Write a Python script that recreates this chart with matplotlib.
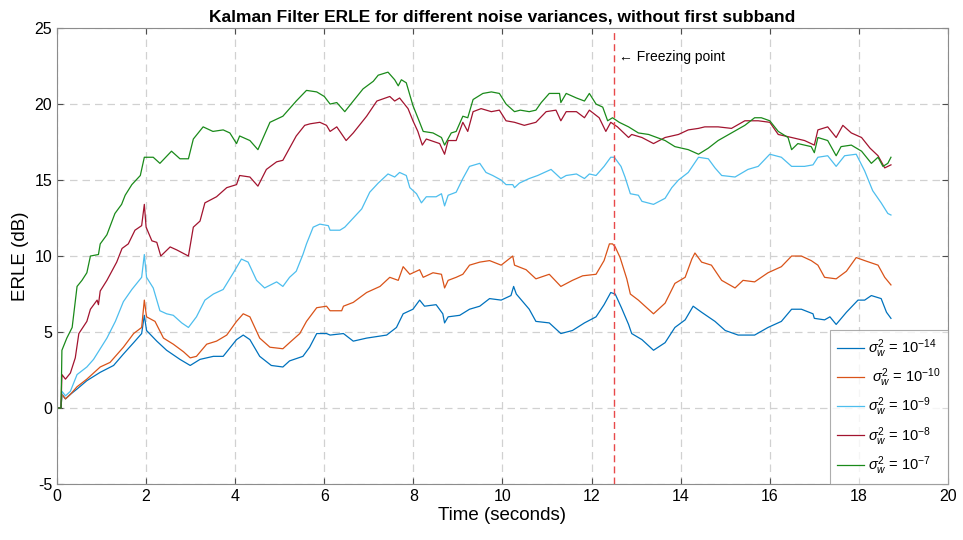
import matplotlib
matplotlib.use('Agg')
import matplotlib.pyplot as plt

plt.rcParams['font.family'] = ['Liberation Sans', 'DejaVu Sans']
plt.rcParams['mathtext.fontset'] = 'custom'
plt.rcParams['mathtext.rm'] = 'Liberation Sans'
plt.rcParams['mathtext.it'] = 'Liberation Sans:italic'
plt.rcParams['axes.unicode_minus'] = False

#####
# (time [s], ERLE [dB])
erle_1e14 = [(0, 0), (0.09, 0), (0.11, 0.9), (0.19, 0.6), (0.3, 0.9), (0.45, 1.25), (0.67, 1.8), (0.97, 2.35),
             (1.27, 2.8), (1.49, 3.55), (1.72, 4.3), (1.9, 4.9), (1.96, 6.1), (2.01, 5.1), (2.24, 4.4), (2.46, 3.8),
             (2.76, 3.2), (2.99, 2.8), (3.21, 3.2), (3.51, 3.4), (3.73, 3.4), (4.03, 4.5), (4.18, 4.8), (4.33, 4.5),
             (4.55, 3.4), (4.81, 2.8), (5.07, 2.7), (5.22, 3.1), (5.52, 3.4), (5.67, 4.0), (5.83, 4.9), (6.05, 4.9),
             (6.13, 4.8), (6.43, 4.9), (6.65, 4.4), (6.95, 4.6), (7.4, 4.8), (7.62, 5.3), (7.77, 6.2), (7.99, 6.5),
             (8.14, 7.1), (8.25, 6.7), (8.51, 6.8), (8.66, 6.2), (8.7, 5.6), (8.78, 6.0), (9.04, 6.1), (9.26, 6.5),
             (9.49, 6.7), (9.71, 7.2), (9.97, 7.1), (10.19, 7.4), (10.25, 8.0), (10.31, 7.5), (10.6, 6.5),
             (10.75, 5.7), (11.05, 5.6), (11.31, 4.9), (11.57, 5.1), (11.84, 5.6), (12.1, 6.0), (12.28, 6.8),
             (12.43, 7.6), (12.53, 7.5), (12.67, 6.6), (12.83, 5.5), (12.9, 4.9), (13.13, 4.5), (13.39, 3.8),
             (13.65, 4.3), (13.87, 5.3), (14.1, 5.8), (14.28, 6.7), (14.47, 6.3), (14.77, 5.7), (15.0, 5.1),
             (15.29, 4.8), (15.66, 4.8), (15.96, 5.3), (16.26, 5.7), (16.49, 6.5), (16.71, 6.5), (16.97, 6.2),
             (17.0, 5.9), (17.23, 5.8), (17.35, 6.0), (17.49, 5.5), (17.72, 6.3), (17.98, 7.1), (18.13, 7.1),
             (18.28, 7.4), (18.5, 7.2), (18.62, 6.3), (18.72, 5.9)]

erle_1e10 = [(0, 0), (0.09, 0), (0.11, 0.9), (0.19, 0.6), (0.3, 0.9), (0.45, 1.4), (0.67, 1.9), (0.97, 2.7),
             (1.19, 3.0), (1.49, 4.0), (1.72, 4.9), (1.9, 5.3), (1.96, 7.1), (2.01, 6.0), (2.2, 5.7), (2.39, 4.6),
             (2.61, 4.2), (2.84, 3.7), (2.99, 3.3), (3.13, 3.4), (3.36, 4.2), (3.58, 4.4), (3.81, 4.8), (4.03, 5.7),
             (4.18, 6.2), (4.33, 6.0), (4.55, 4.6), (4.78, 4.0), (5.07, 3.9), (5.22, 4.3), (5.45, 4.9), (5.6, 5.7),
             (5.83, 6.6), (6.05, 6.7), (6.13, 6.4), (6.39, 6.4), (6.43, 6.7), (6.65, 6.95), (6.95, 7.6),
             (7.25, 8.0), (7.47, 8.6), (7.66, 8.4), (7.77, 9.3), (7.92, 8.8), (8.14, 9.1), (8.22, 8.6),
             (8.44, 8.9), (8.63, 8.8), (8.7, 7.9), (8.78, 8.4), (8.96, 8.6), (9.11, 8.8), (9.26, 9.4), (9.49, 9.6),
             (9.71, 9.7), (9.97, 9.4), (10.23, 10.0), (10.27, 9.4), (10.53, 9.1), (10.75, 8.5), (11.05, 8.8),
             (11.31, 8.0), (11.57, 8.4), (11.8, 8.7), (12.1, 8.8), (12.28, 9.7), (12.4, 10.8), (12.47, 10.8),
             (12.53, 10.6), (12.64, 9.9), (12.79, 8.5), (12.87, 7.5), (13.05, 7.1), (13.2, 6.7), (13.39, 6.2),
             (13.65, 6.9), (13.87, 8.2), (14.1, 8.6), (14.25, 9.8), (14.32, 10.2), (14.47, 9.6), (14.69, 9.4),
             (14.92, 8.4), (15.22, 7.9), (15.4, 8.4), (15.66, 8.3), (15.96, 8.9), (16.26, 9.3), (16.49, 10.0),
             (16.71, 10.0), (16.93, 9.7), (17.08, 9.4), (17.23, 8.6), (17.49, 8.5), (17.72, 9.0), (17.94, 9.9),
             (18.13, 9.7), (18.43, 9.4), (18.58, 8.6), (18.72, 8.1)]

erle_1e9 = [(0, 0), (0.09, 0), (0.11, 1.1), (0.19, 0.8), (0.3, 1.1), (0.45, 2.2), (0.67, 2.7), (0.82, 3.2),
            (0.97, 3.9), (1.12, 4.6), (1.31, 5.7), (1.49, 7.0), (1.68, 7.8), (1.9, 8.6), (1.96, 10.1), (2.01, 8.6),
            (2.16, 7.9), (2.31, 6.4), (2.46, 6.2), (2.61, 6.1), (2.8, 5.6), (2.95, 5.3), (3.13, 6.0), (3.32, 7.1),
            (3.51, 7.5), (3.73, 7.8), (3.96, 8.9), (4.14, 9.8), (4.29, 9.6), (4.48, 8.4), (4.66, 7.9), (4.93, 8.3),
            (5.07, 8.0), (5.22, 8.6), (5.37, 9.0), (5.52, 10.1), (5.6, 10.8), (5.75, 11.9), (5.9, 12.1),
            (6.09, 12.0), (6.13, 11.7), (6.35, 11.7), (6.46, 11.9), (6.65, 12.5), (6.84, 13.1), (7.02, 14.2),
            (7.21, 14.8), (7.43, 15.4), (7.58, 15.2), (7.69, 15.5), (7.84, 15.3), (7.92, 14.5), (8.07, 14.1),
            (8.18, 13.5), (8.29, 13.9), (8.51, 13.9), (8.63, 14.1), (8.7, 13.3), (8.78, 14.0), (8.96, 14.2),
            (9.11, 15.1), (9.26, 15.9), (9.49, 16.1), (9.63, 15.5), (9.78, 15.3), (9.97, 15.0), (10.08, 14.7),
            (10.23, 14.7), (10.27, 14.5), (10.38, 14.8), (10.6, 15.1), (10.79, 15.3), (11.09, 15.7),
            (11.31, 15.1), (11.43, 15.3), (11.66, 15.4), (11.84, 15.1), (11.95, 15.4), (12.1, 15.3),
            (12.28, 15.9), (12.43, 16.5), (12.51, 16.5), (12.66, 15.9), (12.75, 15.2), (12.87, 14.1),
            (13.05, 14.0), (13.13, 13.6), (13.39, 13.4), (13.65, 13.8), (13.8, 14.5), (13.95, 15.0),
            (14.17, 15.5), (14.4, 16.5), (14.62, 16.4), (14.77, 15.8), (14.92, 15.3), (15.22, 15.2),
            (15.51, 15.7), (15.74, 15.9), (16.0, 16.7), (16.26, 16.5), (16.49, 15.9), (16.78, 15.9),
            (16.97, 16.0), (17.08, 16.5), (17.3, 16.6), (17.49, 15.9), (17.68, 16.6), (17.94, 16.7),
            (18.13, 15.6), (18.31, 14.3), (18.5, 13.5), (18.65, 12.8), (18.72, 12.7)]

erle_1e8 = [(0, 0), (0.09, 0), (0.11, 2.2), (0.19, 1.9), (0.3, 2.3), (0.41, 3.3), (0.49, 4.9), (0.67, 5.7),
            (0.75, 6.5), (0.9, 7.1), (0.93, 6.8), (0.97, 7.7), (1.12, 8.4), (1.34, 9.6), (1.46, 10.5), (1.6, 10.8),
            (1.75, 11.7), (1.9, 12.0), (1.96, 13.4), (2.0, 11.9), (2.13, 11.0), (2.24, 10.9), (2.33, 10.0),
            (2.54, 10.6), (2.69, 10.4), (2.95, 10.0), (3.06, 11.9), (3.21, 12.3), (3.32, 13.5), (3.58, 13.9),
            (3.81, 14.5), (4.03, 14.7), (4.1, 15.3), (4.33, 15.2), (4.51, 14.6), (4.7, 15.7), (4.93, 16.2),
            (5.07, 16.3), (5.37, 17.9), (5.56, 18.6), (5.68, 18.7), (5.9, 18.8), (6.05, 18.6), (6.13, 18.2),
            (6.28, 18.5), (6.49, 17.6), (6.65, 18.1), (6.95, 19.2), (7.18, 20.2), (7.47, 20.5), (7.58, 20.2),
            (7.69, 20.4), (7.88, 19.7), (7.99, 18.9), (8.1, 18.2), (8.2, 17.3), (8.29, 17.7), (8.59, 17.4),
            (8.7, 16.7), (8.78, 17.6), (8.96, 17.6), (9.11, 18.8), (9.22, 18.2), (9.34, 19.5), (9.52, 19.7),
            (9.75, 19.5), (9.93, 19.6), (10.08, 18.9), (10.27, 18.8), (10.49, 18.6), (10.75, 18.8),
            (10.98, 19.5), (11.2, 19.6), (11.31, 18.9), (11.43, 19.5), (11.66, 19.5), (11.84, 19.1),
            (11.95, 19.6), (12.17, 19.1), (12.32, 18.2), (12.43, 18.8), (12.58, 18.5), (12.83, 17.8),
            (12.9, 18.0), (13.13, 17.8), (13.39, 17.4), (13.65, 17.8), (13.95, 18.0), (14.17, 18.3),
            (14.4, 18.4), (14.54, 18.5), (14.84, 18.5), (15.14, 18.4), (15.44, 18.9), (15.74, 18.9),
            (16.0, 18.8), (16.19, 18.0), (16.49, 17.8), (16.78, 17.6), (17.0, 17.3), (17.08, 18.3), (17.3, 18.5),
            (17.49, 17.8), (17.64, 18.6), (17.83, 18.1), (18.06, 17.8), (18.25, 17.1), (18.43, 16.6),
            (18.58, 15.8), (18.72, 16.0)]

erle_1e7 = [(0, 0), (0.09, 0), (0.11, 3.8), (0.22, 4.6), (0.34, 5.3), (0.45, 8.0), (0.56, 8.4), (0.67, 8.9),
            (0.75, 10.0), (0.93, 10.1), (0.97, 10.8), (1.12, 11.4), (1.3, 12.8), (1.45, 13.4), (1.53, 14.0),
            (1.68, 14.7), (1.87, 15.3), (1.96, 16.5), (2.16, 16.5), (2.31, 16.1), (2.57, 16.9), (2.76, 16.4),
            (2.95, 16.4), (3.06, 17.7), (3.28, 18.5), (3.5, 18.2), (3.73, 18.3), (3.88, 18.1), (4.03, 17.4),
            (4.1, 17.9), (4.33, 17.6), (4.51, 17.0), (4.78, 18.8), (5.07, 19.2), (5.37, 20.2), (5.6, 20.9),
            (5.83, 20.8), (6.0, 20.5), (6.13, 20.0), (6.28, 20.1), (6.46, 19.5), (6.65, 20.2), (6.87, 21.0),
            (7.1, 21.5), (7.21, 21.9), (7.43, 22.1), (7.58, 21.6), (7.66, 21.2), (7.73, 21.6), (7.84, 21.4),
            (7.99, 19.9), (8.14, 18.8), (8.22, 18.2), (8.44, 18.1), (8.63, 17.8), (8.7, 17.3), (8.85, 18.1),
            (8.96, 18.2), (9.11, 19.2), (9.22, 19.1), (9.34, 20.3), (9.56, 20.7), (9.75, 20.8), (9.93, 20.7),
            (10.08, 20.0), (10.27, 19.5), (10.4, 19.6), (10.6, 19.5), (10.75, 19.6), (10.87, 20.1), (11.05, 20.7),
            (11.28, 20.7), (11.31, 20.1), (11.43, 20.7), (11.66, 20.4), (11.84, 20.2), (11.95, 20.7),
            (12.1, 20.0), (12.25, 19.8), (12.36, 18.9), (12.47, 19.1), (12.62, 18.8), (12.83, 18.5),
            (13.05, 18.1), (13.28, 18.0), (13.65, 17.6), (13.87, 17.2), (14.17, 17.0), (14.4, 16.7),
            (14.62, 17.1), (14.84, 17.6), (15.14, 18.1), (15.44, 18.6), (15.66, 19.1), (15.81, 19.1),
            (16.0, 18.9), (16.19, 18.2), (16.41, 17.8), (16.49, 17.0), (16.63, 17.4), (16.93, 17.2),
            (17.0, 16.8), (17.08, 17.8), (17.3, 17.6), (17.49, 16.6), (17.6, 17.2), (17.83, 17.3),
            (18.06, 16.9), (18.28, 16.1), (18.43, 16.5), (18.54, 15.9), (18.65, 16.1), (18.72, 16.5)]

series = [erle_1e14, erle_1e10, erle_1e9, erle_1e8, erle_1e7]
labels = [r'$\sigma_w^2$ = 10$^{-14}$', r' $\sigma_w^2$ = 10$^{-10}$', r'$\sigma_w^2$ = 10$^{-9}$',
          r'$\sigma_w^2$ = 10$^{-8}$', r'$\sigma_w^2$ = 10$^{-7}$']
colors = ['#0072BD', '#D95319', '#4DBEEE', '#A2142F', '#1A8A1A']
freeze_time = 12.5
#####

fig = plt.figure(figsize=(9.63, 5.4), dpi=100)
ax = fig.add_axes([0.0592, 0.1037, 0.9252, 0.8443])

for data, lab, col in zip(series, labels, colors):
    t, v = zip(*data)
    ax.plot(t, v, color=col, lw=0.9, label=lab)

ax.axvline(freeze_time, color='#E8494A', lw=1.0, ls=(0, (5, 3)))
ax.text(freeze_time + 0.12, 23.1, '\u2190 Freezing point', fontsize=10, va='center', ha='left')

ax.set_xlim(0, 20)
ax.set_ylim(-5, 25)
ax.set_xticks(range(0, 21, 2))
ax.set_yticks(range(-5, 26, 5))
ax.grid(True, color='0.82', ls=(0, (6, 4)), lw=0.9)
ax.tick_params(direction='in', length=4, labelsize=11.5, top=True, right=True, color='0.3')
for s in ax.spines.values():
    s.set_color('0.55')
    s.set_linewidth(0.8)

ax.set_xlabel('Time (seconds)', fontsize=13.5, labelpad=2)
ax.set_ylabel('ERLE (dB)', fontsize=13.5, labelpad=4)
ax.set_title('Kalman Filter ERLE for different noise variances, without first subband',
             fontsize=12.5, fontweight='bold', pad=5)

leg = ax.legend(loc='lower right', fontsize=10.5, frameon=True, fancybox=False, borderaxespad=0,
                handlelength=1.8, labelspacing=0.45, borderpad=0.5, handletextpad=0.3)
leg.get_frame().set_edgecolor('0.6')
leg.get_frame().set_linewidth(0.8)

fig.savefig('out.png', dpi=100)
